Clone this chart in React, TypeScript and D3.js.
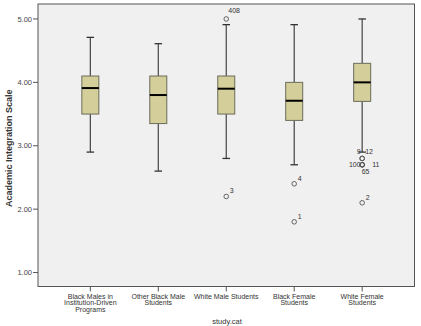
import * as React from "react";
import * as d3 from "d3";

// study groups, one label line per entry
const groupLabels = [
  ["Black Males in", "Institution-Driven", "Programs"],
  ["Other Black Male", "Students"],
  ["White Male Students"],
  ["Black Female", "Students"],
  ["White Female", "Students"],
];

// box plot summaries
const whiskerLow = [2.9, 2.6, 2.8, 2.7, 2.9];
const q1 = [3.5, 3.35, 3.5, 3.4, 3.7];
const median = [3.91, 3.8, 3.9, 3.71, 4.0];
const q3 = [4.1, 4.1, 4.1, 4.0, 4.3];
const whiskerHigh = [4.71, 4.61, 4.91, 4.91, 5.0];

// outliers: group index, value, case label
const outGroup = [2, 2, 3, 3, 4, 4, 4, 4, 4, 4];
const outValue = [5.0, 2.2, 2.4, 1.8, 2.8, 2.8, 2.7, 2.7, 2.7, 2.1];
const outLabel = ["408", "3", "4", "1", "9", "12", "100", "11", "65", "2"];

const yTicks = [1, 2, 3, 4, 5];

// label nudges (dx, dy, anchor) for the case numbers
const labelPlace = {
  "408": [2, -5.5, "start"],
  "9": [-1.5, -4, "end"],
  "12": [3, -4, "start"],
  "100": [-1.5, 2.5, "end"],
  "11": [10, 2.5, "start"],
  "65": [-0.5, 9.5, "start"],
};

export default function App() {
  const width = 421;
  const height = 326;
  const left = 38, right = 414.5, top = 4, bottom = 286.5;

  const x = d3.scalePoint<number>()
    .domain(d3.range(groupLabels.length))
    .range([left, right])
    .padding(0.77);
  const y = d3.scaleLinear().domain([0.78, 5.236]).range([bottom, top]);

  const bw = 17;
  const capW = 7.5;
  const font = "'Liberation Sans', Arial, sans-serif";

  return (
    <svg width={width} height={height}
         style={{position: "absolute", left: 0, top: 0, background: "#fff"}}
         fontFamily={font}>
      <rect x={left} y={top} width={right - left} height={bottom - top}
            fill="#f0f0f0" stroke="#555" strokeWidth={1}/>

      {/* y axis ticks */}
      {yTicks.map(t => (
        <g key={t}>
          <line x1={left - 5} x2={left} y1={y(t)} y2={y(t)} stroke="#555"/>
          <text x={left - 6} y={y(t)} dy="0.35em" textAnchor="end"
                fontSize={7.5} fill="#444">{t.toFixed(2)}</text>
        </g>
      ))}
      <text transform={`translate(9,${(top + bottom) / 2 + 3}) rotate(-90)`}
            textAnchor="middle" dy="0.35em" fontSize={9} fontWeight="bold" fill="#333">
        Academic Integration Scale
      </text>

      {/* x axis ticks and labels */}
      {groupLabels.map((lines, i) => (
        <g key={i}>
          <line x1={x(i)} x2={x(i)} y1={bottom} y2={bottom + 5} stroke="#555"/>
          <text x={x(i)} y={bottom + 10} textAnchor="middle" fontSize={7} fill="#333">
            {lines.map((s, j) => (
              <tspan key={j} x={x(i)} dy={j === 0 ? "0.35em" : 6.3}>{s}</tspan>
            ))}
          </text>
        </g>
      ))}
      <text x={227} y={323.5} textAnchor="middle" fontSize={7.5} fill="#333">study.cat</text>

      {/* boxes */}
      {groupLabels.map((_, i) => {
        const cx = x(i);
        return (
          <g key={i}>
            <line x1={cx} x2={cx} y1={y(whiskerHigh[i])} y2={y(q3[i])} stroke="#444" strokeWidth={1.2}/>
            <line x1={cx} x2={cx} y1={y(q1[i])} y2={y(whiskerLow[i])} stroke="#444" strokeWidth={1.2}/>
            <line x1={cx - capW / 2} x2={cx + capW / 2} y1={y(whiskerHigh[i])} y2={y(whiskerHigh[i])}
                  stroke="#333" strokeWidth={1.3}/>
            <line x1={cx - capW / 2} x2={cx + capW / 2} y1={y(whiskerLow[i])} y2={y(whiskerLow[i])}
                  stroke="#333" strokeWidth={1.3}/>
            <rect x={cx - bw / 2} y={y(q3[i])} width={bw} height={y(q1[i]) - y(q3[i])}
                  fill="#d4cf9a" stroke="#6b6b5a" strokeWidth={1}/>
            <line x1={cx - bw / 2} x2={cx + bw / 2} y1={y(median[i])} y2={y(median[i])}
                  stroke="#000" strokeWidth={2}/>
          </g>
        );
      })}

      {/* outliers */}
      {outValue.map((v, k) => {
        const cx = x(outGroup[k]);
        const cy = y(v);
        const p = labelPlace[outLabel[k]] || [3.5, -3, "start"];
        return (
          <g key={k}>
            <circle cx={cx} cy={cy} r={2.3} fill="none" stroke="#555" strokeWidth={0.9}/>
            <text x={cx + p[0]} y={cy + p[1]} textAnchor={p[2]} fontSize={7} fill="#333">
              {outLabel[k]}
            </text>
          </g>
        );
      })}
    </svg>
  );
}
